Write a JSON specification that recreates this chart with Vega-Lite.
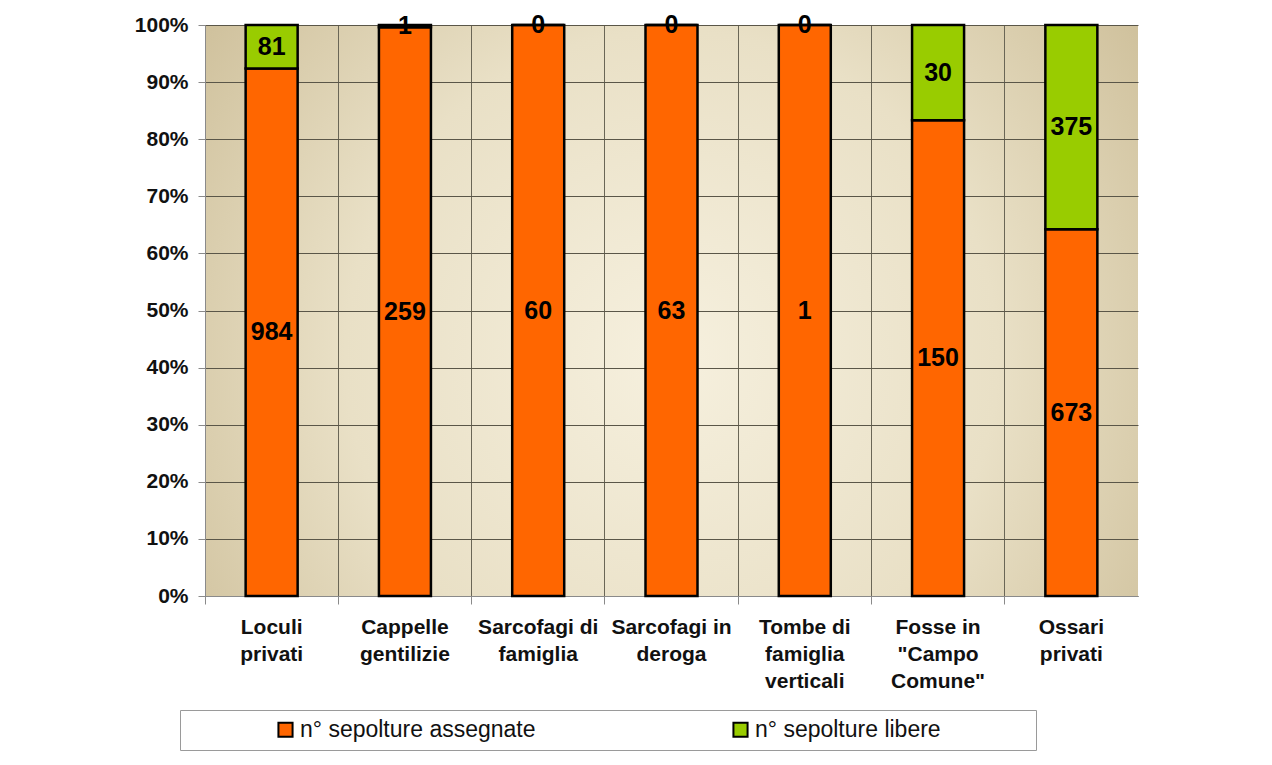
{
  "$schema": "https://vega.github.io/schema/vega-lite/v6.json",
  "width": 933,
  "height": 571,
  "autosize": {"type": "none"},
  "padding": {"left": 205, "top": 25, "right": 134, "bottom": 169},
  "background": "#ffffff",
  "config": {
    "font": "Liberation Sans",
    "view": {
      "stroke": null,
      "fill": {
        "gradient": "radial",
        "x1": 0.5, "y1": 0.55, "r1": 0,
        "x2": 0.5, "y2": 0.55, "r2": 0.7,
        "stops": [
          {"offset": 0, "color": "#f6f0de"},
          {"offset": 0.5, "color": "#e9e0c6"},
          {"offset": 1, "color": "#c7b78f"}
        ]
      }
    }
  },
  "data": {
    "values": [
      {"cat": "Loculi|privati", "tipo": "n° sepolture assegnate", "n": 984, "ord": 1},
      {"cat": "Loculi|privati", "tipo": "n° sepolture libere", "n": 81, "ord": 2},
      {"cat": "Cappelle|gentilizie", "tipo": "n° sepolture assegnate", "n": 259, "ord": 1},
      {"cat": "Cappelle|gentilizie", "tipo": "n° sepolture libere", "n": 1, "ord": 2},
      {"cat": "Sarcofagi di|famiglia", "tipo": "n° sepolture assegnate", "n": 60, "ord": 1},
      {"cat": "Sarcofagi di|famiglia", "tipo": "n° sepolture libere", "n": 0, "ord": 2},
      {"cat": "Sarcofagi in|deroga", "tipo": "n° sepolture assegnate", "n": 63, "ord": 1},
      {"cat": "Sarcofagi in|deroga", "tipo": "n° sepolture libere", "n": 0, "ord": 2},
      {"cat": "Tombe di|famiglia|verticali", "tipo": "n° sepolture assegnate", "n": 1, "ord": 1},
      {"cat": "Tombe di|famiglia|verticali", "tipo": "n° sepolture libere", "n": 0, "ord": 2},
      {"cat": "Fosse in|\"Campo|Comune\"", "tipo": "n° sepolture assegnate", "n": 150, "ord": 1},
      {"cat": "Fosse in|\"Campo|Comune\"", "tipo": "n° sepolture libere", "n": 30, "ord": 2},
      {"cat": "Ossari|privati", "tipo": "n° sepolture assegnate", "n": 673, "ord": 1},
      {"cat": "Ossari|privati", "tipo": "n° sepolture libere", "n": 375, "ord": 2}
    ]
  },
  "transform": [
    {"stack": "n", "groupby": ["cat"], "offset": "normalize", "sort": [{"field": "ord", "order": "ascending"}], "as": ["p0", "p1"]},
    {"calculate": "(datum.p0 + datum.p1) / 2", "as": "pm"}
  ],
  "encoding": {
    "x": {
      "field": "cat", "type": "nominal", "sort": null,
      "scale": {"paddingInner": 0, "paddingOuter": 0},
      "axis": {
        "title": null, "labelAngle": 0, "bandPosition": 0,
        "labelExpr": "split(datum.value, '|')",
        "labelFont": "Liberation Sans", "labelFontWeight": "bold", "labelFontSize": 21,
        "labelColor": "#111111", "labelLineHeight": 27, "labelLimit": 0,
        "labelPadding": 12, "tickSize": 8, "tickColor": "#8a8a8a", "domainColor": "#8a8a8a",
        "grid": true, "gridColor": "#6a6656", "gridWidth": 1
      }
    }
  },
  "layer": [
    {
      "mark": {"type": "bar", "width": 52, "stroke": "#000000", "strokeWidth": 2.5},
      "encoding": {
        "y": {
          "field": "p0", "type": "quantitative", "scale": {"domain": [0, 1], "nice": false},
          "axis": {
            "title": null, "format": ".0%", "values": [0, 0.1, 0.2, 0.3, 0.4, 0.5, 0.6, 0.7, 0.8, 0.9, 1],
            "labelFont": "Liberation Sans", "labelFontWeight": "bold", "labelFontSize": 21,
            "labelColor": "#111111", "labelPadding": 10, "tickSize": 7,
            "tickColor": "#8a8a8a", "domainColor": "#8a8a8a",
            "grid": true, "gridColor": "#5a5648", "gridWidth": 1
          }
        },
        "y2": {"field": "p1"},
        "color": {
          "field": "tipo", "type": "nominal",
          "scale": {"domain": ["n° sepolture assegnate", "n° sepolture libere"], "range": ["#ff6600", "#99cc00"]},
          "legend": {
            "orient": "none", "legendX": -25, "legendY": 685, "direction": "horizontal",
            "title": "\u00a0", "titleOrient": "left", "titleFontSize": 10, "titlePadding": 86,
            "padding": 8, "strokeColor": "#9a9a9a", "fillColor": "#ffffff",
            "symbolType": "square", "symbolSize": 200, "symbolStrokeColor": "#000000", "symbolStrokeWidth": 2,
            "labelFont": "Liberation Sans", "labelFontSize": 23, "labelColor": "#111111", "labelLimit": 500,
            "labelOffset": 3, "columnPadding": 193,
            "labelExpr": "indexof(datum.label, 'libere') >= 0 ? datum.label + '\u00a0\u00a0\u00a0\u00a0\u00a0\u00a0\u00a0\u00a0\u00a0\u00a0\u00a0\u2800' : datum.label"
          }
        }
      }
    },
    {
      "mark": {"type": "text", "font": "Liberation Sans", "fontWeight": "bold", "fontSize": 25, "color": "#000000", "baseline": "middle", "align": "center"},
      "encoding": {
        "y": {"field": "pm", "type": "quantitative"},
        "text": {"field": "n", "type": "quantitative"}
      }
    }
  ]
}
